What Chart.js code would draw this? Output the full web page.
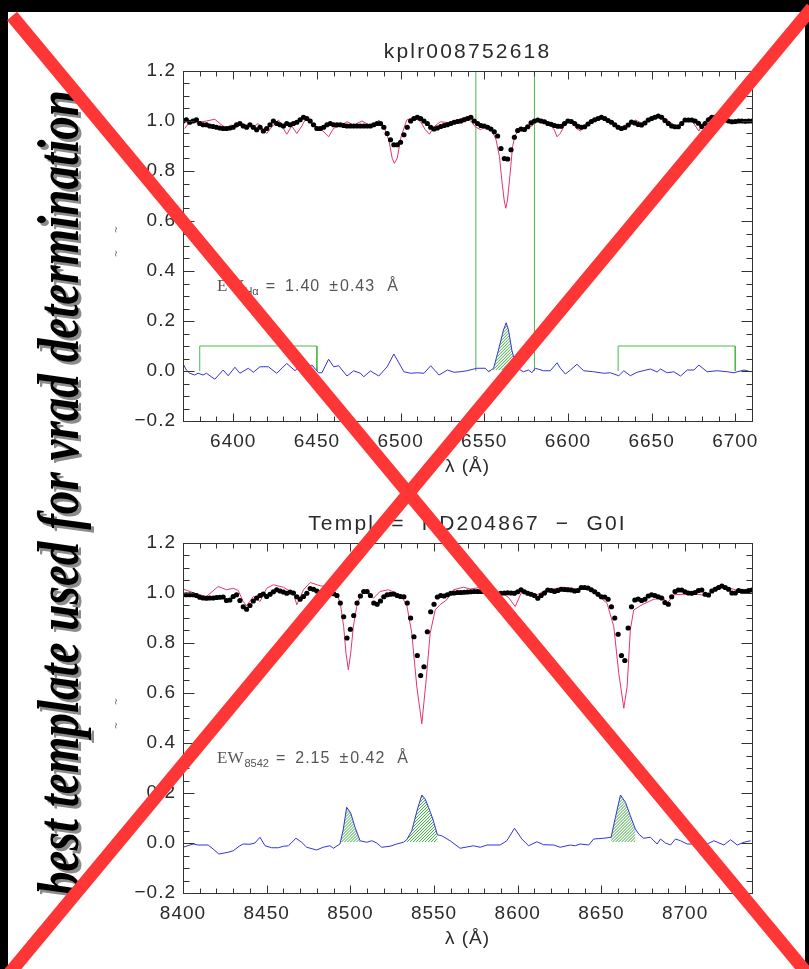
<!DOCTYPE html>
<html>
<head>
<meta charset="utf-8">
<script src="https://cdn.jsdelivr.net/npm/chart.js@4.4.1/dist/chart.umd.min.js"></script>
<style>
  html, body { margin: 0; padding: 0; background: #000; }
  #page { position: relative; width: 809px; height: 969px; overflow: hidden; background: #000; }
  #paper { position: absolute; left: 8px; top: 12px; width: 797px; height: 957px; background: #fff; }
  canvas { position: absolute; left: 0; }
  #top { top: 0; }
  #bottom { top: 480px; }
  #overlay { top: 0; pointer-events: none; }
</style>
</head>
<body>
<div id="page">
  <div id="paper"></div>
  <canvas id="top" width="809" height="480"></canvas>
  <canvas id="bottom" width="809" height="489"></canvas>
  <canvas id="overlay" width="809" height="969"></canvas>
</div>
<script>
// --- tick labels
const yTicks = [-0.2, 0, 0.2, 0.4, 0.6, 0.8, 1.0, 1.2];
const topXTicks = [6400, 6450, 6500, 6550, 6600, 6650, 6700];
const bottomXTicks = [8400, 8450, 8500, 8550, 8600, 8650, 8700];

// --- H-alpha panel: observed flux, sampled every 2 A from 6370
const topObsStart = 6370;
const topObs = [
  1.00, 1.005, 0.995, 1.00, 1.005, 0.99, 0.985, 0.985, 0.98, 0.978,
  0.975, 0.972, 0.97, 0.97, 0.972, 0.975, 0.985, 0.99, 0.98, 0.975,
  0.985, 0.975, 0.965, 0.975, 0.96, 0.97, 0.985, 1.0, 0.99, 0.985,
  0.98, 0.99, 0.985, 0.99, 0.995, 1.005, 1.015, 1.01, 1.0, 0.985,
  0.97, 0.97, 0.975, 0.985, 0.99, 0.985, 0.985, 0.985, 0.982, 0.98,
  0.98, 0.98, 0.98, 0.98, 0.98, 0.98, 0.98, 0.985, 0.99, 0.99,
  0.975, 0.95, 0.925, 0.905, 0.905, 0.915, 0.945, 0.975, 1.0, 1.01,
  1.015, 1.01, 1.0, 0.99, 0.975, 0.968, 0.972, 0.978, 0.982, 0.985,
  0.99, 0.995, 0.998, 1.0, 1.005, 1.01, 1.015, 1.0, 0.99, 0.982,
  0.98, 0.975, 0.968, 0.957, 0.94, 0.89, 0.85, 0.848, 0.885, 0.935,
  0.962, 0.968, 0.966, 0.977, 0.993, 1.0, 1.004, 1.0, 0.997, 0.99,
  0.987, 0.982, 0.979, 0.979, 0.99, 1.0, 0.998, 0.99, 0.979, 0.975,
  0.977, 0.988, 0.998, 1.005, 1.01, 1.015, 1.01, 1.002, 0.995, 0.985,
  0.975, 0.97, 0.974, 0.984, 0.996, 0.992, 0.986, 0.984, 0.992, 1.004,
  1.01, 1.015, 1.02, 1.015, 1.002, 0.99, 0.98, 0.977, 0.977, 0.99,
  1.004, 1.004, 1.004, 1.0, 0.991, 0.978, 0.99, 1.005, 1.015, 1.015,
  1.015, 1.01, 1.004, 1.0, 0.997, 0.998, 1.0, 1.0, 0.999, 1.0,
  1.0
];
// broadened template [wavelength, flux]
const topTemplate = [
  [6371, 0.97], [6374, 0.997], [6378, 0.993], [6384, 1.0], [6389, 1.007], [6392, 0.99],
  [6396, 0.97], [6399, 0.984], [6402, 0.975], [6405, 0.99], [6408, 0.984], [6412, 0.977],
  [6415, 0.99], [6420, 0.95], [6424, 0.984], [6427, 1.004], [6432, 0.947], [6435, 0.98],
  [6438, 0.95], [6441, 0.98], [6444, 1.017], [6447, 0.984], [6450, 0.977], [6453, 0.964],
  [6457, 0.937], [6460, 0.971], [6464, 0.98], [6468, 0.997], [6472, 0.984], [6477, 1.0],
  [6481, 0.984], [6484, 0.977], [6487, 1.004], [6490, 0.977], [6493, 0.924], [6495, 0.851],
  [6496.3, 0.831], [6498, 0.851], [6500.3, 0.937], [6503.7, 1.004], [6507.7, 1.015], [6512, 0.997],
  [6514.7, 0.966], [6517.3, 0.947], [6520, 0.977], [6523.7, 0.997], [6529, 0.993], [6534, 1.004],
  [6538.6, 1.015], [6542, 1.0], [6544.6, 0.977], [6547.6, 0.966], [6551.6, 0.977], [6554.6, 0.963],
  [6557.1, 0.924], [6559.1, 0.857], [6560.5, 0.764], [6561.9, 0.684], [6562.9, 0.651], [6563.9, 0.684],
  [6565.5, 0.791], [6566.9, 0.897], [6568.5, 0.944], [6571.5, 0.966], [6575.5, 0.977], [6578.5, 0.98],
  [6581.5, 1.004], [6585.5, 0.997], [6589.5, 0.984], [6591.9, 0.964], [6593.5, 0.937], [6595.5, 0.951],
  [6598.5, 0.991], [6602.4, 0.997], [6605, 0.97], [6607.4, 0.96], [6610.4, 0.98], [6615.4, 0.997],
  [6620.4, 1.01], [6624.4, 1.004], [6629.4, 0.98], [6633.4, 0.971], [6637.3, 0.984], [6640.3, 1.004],
  [6644.3, 0.991], [6647.3, 0.997], [6651.3, 1.015], [6655.3, 1.019], [6659.3, 1.004], [6663.3, 0.984],
  [6666.3, 0.977], [6669.3, 1.004], [6673.3, 1.007], [6676.2, 0.98], [6678.2, 0.96], [6680.8, 0.99],
  [6684.2, 1.015], [6690.2, 1.01], [6695.2, 1.004], [6701.2, 0.997], [6709, 0.997]
];
// observed minus template [wavelength, diff]
const topResidual = [
  [6370, 0.03], [6372, 0.004], [6374, -0.009], [6377, -0.016], [6379, -0.009], [6382, -0.016],
  [6384, -0.009], [6389, -0.033], [6394, 0.004], [6397, -0.019], [6401, 0.015], [6404, -0.009],
  [6409, 0.011], [6412, -0.005], [6416, 0.017], [6421, 0.017], [6426, -0.009], [6432, 0.03],
  [6437, 0.001], [6440, 0.024], [6444, 0.011], [6447, 0.024], [6451, -0.007], [6453, -0.007],
  [6457, 0.047], [6460, 0.017], [6463, 0.021], [6468, -0.02], [6472, 0.001], [6476, -0.009],
  [6478, -0.023], [6482, 0.0], [6487, -0.02], [6492, 0.017], [6496, 0.068], [6502, -0.003],
  [6506, -0.009], [6510, -0.007], [6514, -0.009], [6518, 0.021], [6523, -0.016], [6528, 0.004],
  [6532, -0.005], [6535.6, -0.003], [6539.6, 0.001], [6545.6, 0.011], [6550.6, 0.011], [6552.6, -0.003],
  [6555.6, 0.011], [6558.5, 0.084], [6561.5, 0.164], [6563.1, 0.193], [6564.5, 0.164], [6566.5, 0.084],
  [6568.5, 0.031], [6571.5, 0.004], [6573.5, -0.003], [6576.5, 0.004], [6578.5, -0.007], [6580.5, 0.011],
  [6585.5, 0.001], [6589.5, 0.001], [6593.5, 0.033], [6595.5, 0.011], [6598.5, -0.012], [6601.5, 0.004],
  [6605.4, 0.027], [6609.4, 0.001], [6615.4, -0.003], [6621.4, -0.009], [6625.4, -0.007], [6630.4, -0.019],
  [6633.4, 0.001], [6637.3, -0.019], [6641.3, -0.005], [6644.3, 0.0], [6649.3, 0.008], [6653.3, -0.004],
  [6655.3, 0.008], [6659.3, -0.007], [6663.3, -0.003], [6667.3, -0.02], [6671.3, 0.004], [6675.3, 0.004],
  [6678.2, 0.024], [6683.2, -0.003], [6689.2, 0.001], [6695.2, -0.003], [6699.2, -0.007], [6705.2, 0.004],
  [6709.2, -0.003]
];
const topEmission = [[6550.6, 6572]];
const topLineWindow = [6545, 6580];
const topContinuum = [[6380, 6450], [6630, 6700]];
const continuumMark = 0.1;

// --- Ca triplet panel
const bottomObsStart = 8400;
const bottomObs = [
  0.993, 0.993, 0.993, 0.993, 0.99, 0.983, 0.98, 0.979, 0.98, 0.98,
  0.982, 0.983, 0.984, 0.97, 0.972, 0.986, 0.993, 0.97, 0.945, 0.935,
  0.95, 0.968, 0.98, 0.99, 0.996, 0.986, 0.995, 1.005, 1.013, 1.008,
  1.004, 0.999, 1.004, 1.0, 0.985, 0.975, 0.986, 0.999, 1.018, 1.015,
  1.008, 1.002, 0.998, 0.996, 0.998, 0.997, 0.99, 0.96, 0.905, 0.82,
  0.855, 0.91, 0.96, 0.988, 1.006, 1.006, 0.99, 0.96, 0.955, 0.968,
  0.985, 0.993, 0.995, 0.996, 0.99, 0.986, 0.985, 0.96, 0.9, 0.825,
  0.75, 0.67, 0.705, 0.845, 0.925, 0.955, 0.984, 0.99, 0.988, 0.993,
  0.999, 1.0, 1.002, 1.002, 1.003, 1.004, 1.005, 1.006, 1.006, 1.006,
  1.006, 0.995, 0.988, 0.987, 0.995, 0.999, 1.0, 1.001, 1.0, 0.999,
  1.005, 1.013, 1.005, 0.999, 0.995, 0.99, 0.979, 0.99, 1.0, 1.012,
  1.01, 1.006, 1.01, 1.015, 1.014, 1.013, 1.012, 1.008, 1.01, 1.022,
  1.022, 1.02, 1.013, 1.005, 0.995, 0.985, 0.984, 0.975, 0.945, 0.9,
  0.835, 0.75, 0.73, 0.86, 0.945, 0.972, 0.976, 0.97, 0.975, 0.988,
  0.993, 0.99, 0.985, 0.98, 0.962, 0.955, 0.985, 1.006, 1.012, 1.012,
  1.005, 1.0, 0.999, 1.002, 1.01, 1.012, 0.995, 0.992, 1.008, 1.015,
  1.022, 1.028, 1.022, 1.015, 1.0, 1.0, 1.01, 1.007, 1.006, 1.01,
  1.012
];
const bottomTemplate = [
  [8400, 1.016], [8407, 0.999], [8414, 0.986], [8421, 1.026], [8426, 1.013], [8430, 1.019],
  [8433, 1.01], [8436, 0.966], [8438, 0.949], [8442, 0.986], [8446, 0.966], [8450, 1.019],
  [8454, 1.033], [8460, 1.023], [8466, 0.999], [8468, 0.953], [8472, 1.013], [8476, 1.042],
  [8482, 1.029], [8488, 1.023], [8492, 0.995], [8494, 0.959], [8496, 0.866], [8497.4, 0.759],
  [8498.8, 0.693], [8500.2, 0.759], [8501.8, 0.866], [8503.8, 0.946], [8505.8, 0.986], [8509.8, 1.013],
  [8513.8, 0.979], [8517.7, 1.006], [8522.7, 1.013], [8529.7, 0.993], [8533.7, 0.953], [8536.7, 0.839],
  [8539.7, 0.626], [8542.7, 0.477], [8545.3, 0.653], [8547.7, 0.839], [8550.7, 0.932], [8553.6, 0.953],
  [8557.6, 0.973], [8561.6, 1.013], [8567.6, 1.023], [8571.6, 1.016], [8578.6, 1.023], [8583.6, 0.993],
  [8589.5, 1.006], [8594.5, 0.982], [8598.5, 0.946], [8602.5, 1.006], [8611.5, 0.993], [8617.5, 1.013],
  [8627.4, 1.023], [8635.4, 1.016], [8641.4, 1.023], [8647.4, 0.993], [8653.4, 0.959], [8657.4, 0.866],
  [8660.4, 0.679], [8663.4, 0.539], [8665.4, 0.626], [8667.3, 0.853], [8669.3, 0.932], [8674.3, 0.953],
  [8681.3, 0.975], [8687.3, 0.979], [8689.3, 0.959], [8693.3, 0.993], [8705.3, 0.997], [8713.2, 0.989],
  [8719.2, 1.019], [8725.2, 1.023], [8733.2, 1.006], [8739.2, 1.013]
];
const bottomResidual = [
  [8400, -0.017], [8406, -0.004], [8409, -0.008], [8415, -0.008], [8418, -0.024], [8421.4, -0.044],
  [8427, -0.037], [8430, -0.031], [8434, -0.011], [8436, -0.004], [8440, -0.005], [8443, 0.0],
  [8446, 0.023], [8449, -0.011], [8453, -0.019], [8457, -0.019], [8460, -0.013], [8463, -0.011],
  [8467.5, 0.019], [8470.9, 0.003], [8473.9, -0.017], [8479.8, -0.028], [8483.8, -0.017], [8487.8, -0.011],
  [8489.8, -0.021], [8493.8, -0.004], [8495.8, 0.056], [8497.8, 0.143], [8500.2, 0.12], [8502.8, 0.063],
  [8505.8, 0.009], [8509.8, 0.003], [8512.8, 0.009], [8515.8, 0.0], [8518.7, -0.017], [8523.7, -0.013],
  [8527.7, -0.004], [8531.7, 0.003], [8533.7, 0.013], [8536.7, 0.049], [8540.1, 0.136], [8542.7, 0.192],
  [8544.7, 0.176], [8546.7, 0.143], [8549.3, 0.096], [8552, 0.033], [8554.6, 0.029], [8559.6, 0.009],
  [8565.6, -0.021], [8573.6, -0.011], [8577.6, -0.017], [8581.6, -0.008], [8589.5, -0.008], [8593.5, 0.009],
  [8598.1, 0.059], [8602.5, 0.016], [8606.5, -0.011], [8611.5, 0.005], [8615.5, -0.007], [8621.5, -0.008],
  [8625.4, -0.017], [8631.4, -0.008], [8634.4, -0.011], [8637.4, -0.004], [8642.4, -0.008], [8645.4, 0.016],
  [8651.4, 0.019], [8655.8, 0.023], [8658.4, 0.103], [8661.4, 0.192], [8664.4, 0.163], [8667.3, 0.109],
  [8670.3, 0.056], [8672.3, 0.036], [8675.3, 0.019], [8679.3, 0.023], [8683.3, -0.004], [8685.3, 0.016],
  [8688.3, 0.0], [8691.3, -0.008], [8694.3, 0.016], [8697.3, 0.009], [8701.3, -0.004], [8705.3, -0.004],
  [8709.2, -0.008], [8713.2, -0.004], [8717.2, 0.009], [8723.2, -0.008], [8727.2, 0.013], [8731.2, -0.008],
  [8735.2, 0.003], [8739.2, 0.009]
];
const bottomEmission = [[8493.8, 8507], [8533, 8553], [8655.8, 8671]];

const obsStep = 2;
const red = '#e8336b', blue = '#3434d6', green = '#4cb84c', ink = '#2a2a2a';
const pts = arr => arr.map(([x, y]) => ({ x, y }));

// green hatching between the residual and its local continuum
const hatchFill = {
  id: 'hatchFill',
  beforeDatasetsDraw(chart, args, o) {
    const { ctx, scales: { x, y } } = chart;
    const y0 = y.getPixelForValue(0.004);
    const yTop = y.getPixelForValue(0.25);
    o.windows.forEach(([lo, hi]) => {
      const seg = o.residual.filter(([w]) => w >= lo && w <= hi);
      ctx.save();
      ctx.beginPath();
      ctx.moveTo(x.getPixelForValue(seg[0][0]), y0);
      seg.forEach(([w, v]) => ctx.lineTo(x.getPixelForValue(w), y.getPixelForValue(v)));
      ctx.lineTo(x.getPixelForValue(seg[seg.length - 1][0]), y0);
      ctx.closePath();
      ctx.clip();
      const h = y0 + 4 - yTop;
      const x0 = x.getPixelForValue(lo) - h, x1 = x.getPixelForValue(hi);
      ctx.strokeStyle = '#3aa83a';
      ctx.lineWidth = 1;
      ctx.beginPath();
      for (let s = x0; s < x1; s += 3) {
        ctx.moveTo(s, y0 + 4);
        ctx.lineTo(s + h, yTop);
      }
      ctx.stroke();
      ctx.restore();
    });
  }
};

// frame, inward ticks and the text of each panel
const deco = {
  id: 'deco',
  beforeDraw(chart) { chart.ctx.letterSpacing = '1px'; },
  afterDatasetsDraw(chart, args, o) {
    const { ctx, chartArea: a, scales: { x, y } } = chart;
    ctx.save();
    ctx.strokeStyle = '#333';
    ctx.lineWidth = 1;
    const L = Math.round(a.left) + 0.5, R = Math.round(a.right) + 0.5;
    const T = Math.round(a.top) + 0.5, B = Math.round(a.bottom) + 0.5;
    ctx.strokeRect(L, T, R - L, B - T);
    ctx.beginPath();
    for (let v = Math.ceil(x.min / 10) * 10; v <= x.max; v += 10) {
      const px = Math.round(x.getPixelForValue(v)) + 0.5;
      const len = v % 50 === 0 ? 8 : 5;
      ctx.moveTo(px, B); ctx.lineTo(px, B - len);
      ctx.moveTo(px, T); ctx.lineTo(px, T + len);
    }
    for (let k = -4; k <= 24; k++) {
      const py = Math.round(y.getPixelForValue(k * 0.05)) + 0.5;
      const len = k % 4 === 0 ? 11 : 6;
      ctx.moveTo(L, py); ctx.lineTo(L + len, py);
      ctx.moveTo(R, py); ctx.lineTo(R - len, py);
    }
    ctx.stroke();

    const cx = (a.left + a.right) / 2;
    ctx.fillStyle = ink;
    ctx.textAlign = 'center';
    ctx.textBaseline = 'middle';
    ctx.letterSpacing = '2.2px';
    ctx.font = '21px "Liberation Sans"';
    ctx.fillText(o.title, cx, a.top - 19);
    ctx.letterSpacing = '1px';
    ctx.font = '19px "Liberation Sans"';
    ctx.fillText('λ (Å)', cx, a.bottom + 46);

    // equivalent width label
    ctx.fillStyle = '#555';
    ctx.textAlign = 'left';
    ctx.textBaseline = 'alphabetic';
    const by = a.top + 220;
    let tx = 217;
    ctx.letterSpacing = '0px';
    ctx.font = '17px "Liberation Serif"';
    ctx.fillText('EW', tx, by);
    tx += ctx.measureText('EW').width + 1;
    ctx.font = '11px "Liberation Sans"';
    ctx.fillText(o.ewSub, tx, by + 4);
    tx += ctx.measureText(o.ewSub).width + 7;
    ctx.letterSpacing = '1px';
    ctx.font = '16px "Liberation Sans"';
    const parts = [['=', 9], [o.ewValue, 9], ['±', 1], [o.ewError, 12], ['Å', 0]];
    parts.forEach(([s, gap]) => {
      ctx.fillText(s, tx, by);
      tx += ctx.measureText(s).width + gap;
    });

    // tiny y-axis title
    ctx.fillStyle = '#666';
    ctx.font = '9px "DejaVu Sans"';
    ctx.translate(119, a.top + 170);
    ctx.rotate(-Math.PI / 2);
    ctx.textAlign = 'center';
    ctx.fillText('~    ~', 0, 0);
    ctx.restore();
  }
};

function makePanel(id, p) {
  const datasets = [
    {
      data: p.obs.map((y, i) => ({ x: p.obsStart + i * obsStep, y })),
      showLine: false, pointRadius: 2.6, pointBackgroundColor: '#000',
      pointBorderWidth: 0, order: 0
    },
    { data: pts(p.template), borderColor: red, borderWidth: 1, pointRadius: 0, order: 1 },
    { data: pts(p.residual), borderColor: blue, borderWidth: 1, pointRadius: 0, order: 2 }
  ];
  p.marks.forEach(m => datasets.push({
    data: pts(m), borderColor: green, borderWidth: 1, pointRadius: 0, order: 4
  }));

  return new Chart(document.getElementById(id), {
    type: 'line',
    data: { datasets },
    options: {
      responsive: false,
      animation: false,
      events: [],
      elements: { line: { tension: 0 } },
      layout: { padding: { top: p.padTop, right: 57, left: 0, bottom: 0 } },
      plugins: {
        legend: { display: false },
        tooltip: { enabled: false },
        deco: p.text,
        hatchFill: { windows: p.emission, residual: p.residual }
      },
      scales: {
        x: {
          type: 'linear',
          min: p.xMin,
          max: p.xMax,
          afterFit: s => { s.height = p.xAxisHeight; },
          afterBuildTicks: s => { s.ticks = p.xTicks.map(value => ({ value })); },
          grid: { display: false, drawTicks: false },
          border: { display: false },
          ticks: {
            color: ink, padding: 9, autoSkip: false, maxRotation: 0,
            font: { family: 'Liberation Sans', size: 19 },
            callback: v => String(v)
          }
        },
        y: {
          min: -0.2,
          max: 1.2,
          afterFit: s => { s.width = 183; },
          afterBuildTicks: s => { s.ticks = yTicks.map(value => ({ value })); },
          grid: { display: false, drawTicks: false },
          border: { display: false },
          ticks: {
            color: ink, padding: 7,
            font: { family: 'Liberation Sans', size: 19 },
            callback: v => v.toFixed(1).replace('-', '−')
          }
        }
      }
    },
    plugins: [hatchFill, deco]
  });
}

const [wLo, wHi] = topLineWindow;
makePanel('top', {
  obs: topObs, obsStart: topObsStart, template: topTemplate, residual: topResidual,
  emission: topEmission,
  marks: [
    [[wLo, 0], [wLo, 1.2]],
    [[wHi, 0], [wHi, 1.2]],
    ...topContinuum.map(([a, b]) => [[a, 0], [a, continuumMark], [b, continuumMark], [b, 0]])
  ],
  xMin: 6370, xMax: 6710, xTicks: topXTicks,
  padTop: 71, xAxisHeight: 59,
  text: { title: 'kplr008752618', ewSub: 'Hα', ewValue: '1.40', ewError: '0.43' }
});

makePanel('bottom', {
  obs: bottomObs, obsStart: bottomObsStart, template: bottomTemplate, residual: bottomResidual,
  emission: bottomEmission, marks: [],
  xMin: 8400, xMax: 8740, xTicks: bottomXTicks,
  padTop: 63, xAxisHeight: 76,
  text: { title: 'Templ  =  HD204867  −  G0I', ewSub: '8542', ewValue: '2.15', ewError: '0.42' }
});

// side caption and the red cross on top of everything
(function () {
  const ctx = document.getElementById('overlay').getContext('2d');
  const caption = 'best template used for vrad determination';
  ctx.save();
  ctx.font = 'bold italic 60px "Liberation Serif"';
  const w = ctx.measureText(caption).width;
  ctx.translate(78, 895);
  ctx.rotate(-Math.PI / 2);
  ctx.scale(805 / w, 1);
  ctx.shadowColor = '#8c8c8c';
  ctx.shadowOffsetX = 3;
  ctx.shadowOffsetY = 3;
  ctx.fillStyle = '#000';
  ctx.textBaseline = 'alphabetic';
  ctx.fillText(caption, 0, 0);
  ctx.restore();

  ctx.strokeStyle = '#ff3636';
  ctx.lineWidth = 13;
  ctx.beginPath();
  ctx.moveTo(12, 16); ctx.lineTo(806, 972);
  ctx.moveTo(812, 8); ctx.lineTo(8, 975);
  ctx.stroke();
})();
</script>
</body>
</html>
